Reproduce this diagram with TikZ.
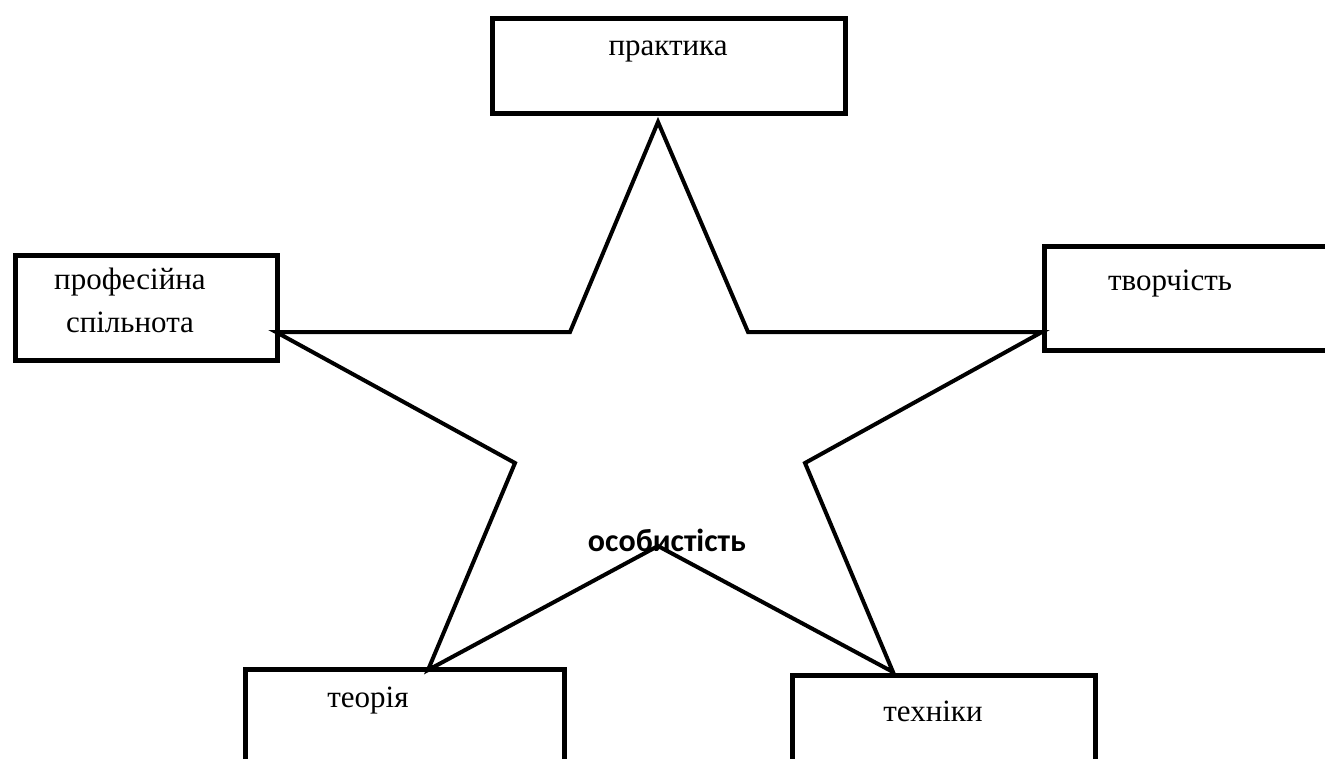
\documentclass[tikz,border=0pt]{standalone}
\usepackage{fontspec}
\setmainfont{Liberation Serif}
\newfontfamily\calib{Carlito}
\begin{document}
\begin{tikzpicture}[x=1pt,y=-1pt,
  boxst/.style={draw=black,line width=4.5pt,inner sep=0pt,anchor=north west},
  lbl/.style={font=\fontsize{31}{43}\selectfont,anchor=base,inner sep=0pt},
  starline/.style={draw=black,line width=4pt,line join=miter}]
\useasboundingbox (0,0) rectangle (1325,758);
\clip (0,0) rectangle (1325,758);
% boxes
\node[boxst,minimum width=353pt,minimum height=95pt] (prak) at (490,16) {};
\node[boxst,minimum width=262pt,minimum height=105pt] (prof) at (13,253) {};
\node[boxst,minimum width=300pt,minimum height=104pt] (tvor) at (1042,244) {};
\node[boxst,minimum width=319pt,minimum height=110pt] (teor) at (243,667) {};
\node[boxst,minimum width=303pt,minimum height=110pt] (tekh) at (790,673) {};
% labels
\node[lbl] (tprak) at (668,55) {практика};
\node[lbl,align=center] (tprof) at (130,332) {професійна\\спільнота};
\node[lbl] (ttvor) at (1170,290) {творчість};
\node[lbl] (tteor) at (368,707) {теорія};
\node[lbl] (ttekh) at (933,721) {техніки};
% star
\coordinate (s1) at (658,122);
\coordinate (s2) at (570,332);
\coordinate (s3) at (276,332);
\coordinate (s4) at (515,463);
\coordinate (s5) at (428,670);
\coordinate (s6) at (658,546);
\coordinate (s7) at (893,672);
\coordinate (s8) at (805,463);
\coordinate (s9) at (1042,332);
\coordinate (s10) at (748,332);
\draw[starline] (s1) -- (s2) -- (s3) -- (s4) -- (s5) -- (s6) -- (s7) -- (s8) -- (s9) -- (s10) -- cycle;
\node[anchor=base,inner sep=0pt,font=\calib\bfseries\fontsize{32}{38}\selectfont] (center) at (667,551) {особистість};
\end{tikzpicture}
\end{document}
